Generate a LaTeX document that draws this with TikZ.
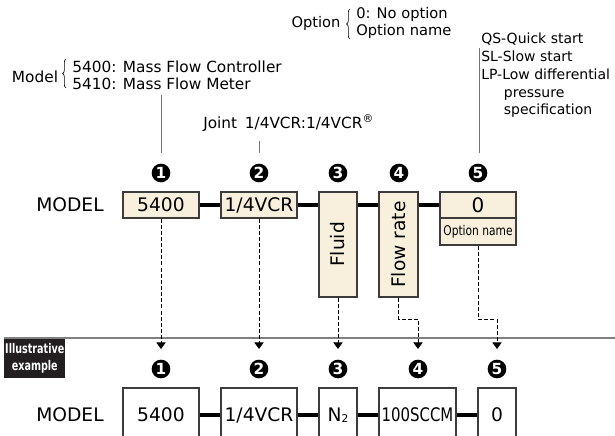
\documentclass[tikz,border=0pt]{standalone}
\usepackage{fontspec}
\usepackage{graphicx}
\setmainfont{DejaVu Sans}
\usetikzlibrary{positioning,arrows.meta,decorations.pathreplacing,calc}
\definecolor{codefill}{HTML}{F8EFDC}
\definecolor{codeline}{HTML}{3C3C3C}
\definecolor{taggray}{HTML}{231F20}
\newcommand\boxfont{\fontsize{14}{16}\selectfont}
\newcommand\notefont{\fontsize{11.5}{12.75}\selectfont}
\newcommand\smallnote{\fontsize{10.5}{13.3}\selectfont}
\newcommand\squeeze[1]{\scalebox{0.8}[1]{#1}}
\tikzset{
  codebox/.style={draw=codeline, line width=0.8pt, fill=codefill, inner sep=0pt, font=\boxfont},
  samplebox/.style={draw=codeline, line width=0.8pt, fill=white, inner sep=0pt, font=\boxfont},
  widebox/.style={minimum width=57pt},
  slimbox/.style={minimum width=28.5pt},
  numdot/.style={circle, fill=black, text=white, inner sep=0pt, minimum size=14pt, font=\fontsize{11.5}{11.5}\selectfont\bfseries},
  link/.style={line width=2.3pt},
  guide/.style={draw=black!55, line width=0.7pt},
  dashguide/.style={dash pattern=on 3pt off 1.6pt, line width=0.7pt},
  note/.style={inner sep=0pt, align=left},
}
\begin{document}
\begin{tikzpicture}[x=0.75pt, y=-0.75pt, >={Triangle[width=7pt,length=5pt]}]
\clip (0,0) rectangle (615,436);
% Notes above the code
\node[font=\notefont] (modelword) at (35,77) {Model};
\node[note, font=\notefont, anchor=west] (modelnote) at (72,75) {5400: Mass Flow Controller\\5410: Mass Flow Meter};
\draw[decorate, decoration={brace, amplitude=2.5pt}, line width=0.5pt] (66,88) -- (66,59);
\node[font=\fontsize{11}{12}\selectfont] (optword) at (316,23) {Option};
\node[note, font=\fontsize{11}{13}\selectfont, anchor=west] (optnote) at (356,23) {0: No option\\Option name};
\draw[decorate, decoration={brace, amplitude=2.5pt}, line width=0.5pt] (350,39) -- (350,9);
\node[note, font=\notefont, anchor=west] (jointnote) at (203,123) {Joint\hspace{0.5em}1/4VCR:1/4VCR\textsuperscript{®}};
\node[note, font=\smallnote, anchor=north west] (qsnote) at (481,33) {QS-Quick start\\SL-Slow start\\LP-Low differential\\\hspace*{17pt}pressure\\\hspace*{17pt}specification};
\coordinate (qsfoot) at (479,48);
% Code boxes
\node[font=\boxfont] (modeltop) at (70,205) {MODEL};
\node[codebox, widebox, minimum height=19.5pt] (model) at (161,205) {5400};
\node[codebox, widebox, minimum height=19.5pt] (joint) at (259,205) {1/4VCR};
\node[codebox, slimbox, minimum height=78.75pt] (fluid) at (338,244.5) {\rotatebox{90}{Fluid}};
\node[codebox, slimbox, minimum width=29.25pt, minimum height=78.75pt] (flow) at (398.5,244.5) {\rotatebox{90}{Flow rate}};
\node[codebox, widebox, minimum height=19.5pt, font=\fontsize{15}{16}\selectfont] (optA) at (478,205) {0};
\node[codebox, widebox, minimum height=20.25pt, font=\fontsize{10}{12}\selectfont] (optB) at (478,231.5) {\squeeze{Option name}};
\draw[link] (model) -- (joint);
\draw[link] (joint.east) -- (joint.east -| fluid.west);
\draw[link] (fluid.east |- joint) -- (flow.west |- joint);
\draw[link] (flow.east |- joint) -- (optA.west);
% Item numbers
\node[numdot] (t1) at (161,173) {1};
\node[numdot] (t2) at (259,173) {2};
\node[numdot] (t3) at (338,173) {3};
\node[numdot] (t4) at (399,173) {4};
\node[numdot] (t5) at (478,173) {5};
\draw[guide] (t1 |- modelnote.south) ++(0,5) -- ($(t1)+(0,-20)$);
\draw[guide] (t2 |- jointnote.south) ++(0,9) -- ($(t2)+(0,-20)$);
\draw[guide] (qsfoot) -- ($(qsfoot |- t5)+(0,-20)$);
% Illustrative example
\node[fill=taggray, text=white, anchor=north west, minimum width=45.75pt, minimum height=30pt, inner sep=0pt, align=center, font=\fontsize{10}{12.5}\selectfont\bfseries] (tag) at (4,338) {\scalebox{0.72}[1]{Illustrative}\\\scalebox{0.72}[1]{example}};
\draw[draw=black!50, line width=0.8pt] (tag.north west) -- (615,338);
\node[numdot] (b1) at (161,369) {1};
\node[numdot] (b2) at (259,369) {2};
\node[numdot] (b3) at (338,369) {3};
\node[numdot] (b4) at (418,369) {4};
\node[numdot] (b5) at (497,369) {5};
\node[font=\boxfont] (modelbot) at (70,415) {MODEL};
\node[samplebox, widebox, minimum height=40.5pt] (s1) at (161,415) {5400};
\node[samplebox, widebox, minimum height=40.5pt] (s2) at (259,415) {1/4VCR};
\node[samplebox, slimbox, minimum height=40.5pt] (s3) at (338,415) {N\raisebox{-1pt}{\fontsize{8}{8}\selectfont 2}};
\node[samplebox, minimum width=57.75pt, minimum height=40.5pt] (s4) at (417.5,415) {\squeeze{100SCCM}};
\node[samplebox, slimbox, minimum height=40.5pt] (s5) at (497,415) {0};
\draw[link] (s1) -- (s2);
\draw[link] (s2) -- (s3);
\draw[link] (s3) -- (s4);
\draw[link] (s4) -- (s5);
% Dashed leaders
\draw[dashguide, ->] (model.south) -- ($(b1)+(0,-20)$);
\draw[dashguide, ->] (joint.south) -- ($(b2)+(0,-20)$);
\draw[dashguide, ->] (fluid.south) -- ($(b3)+(0,-20)$);
\draw[dashguide, ->] (flow.south) |- ($(b4)+(0,-50)$) -- ($(b4)+(0,-20)$);
\draw[dashguide, ->] (optB.south) |- ($(b5)+(0,-50)$) -- ($(b5)+(0,-20)$);
\end{tikzpicture}
\end{document}
